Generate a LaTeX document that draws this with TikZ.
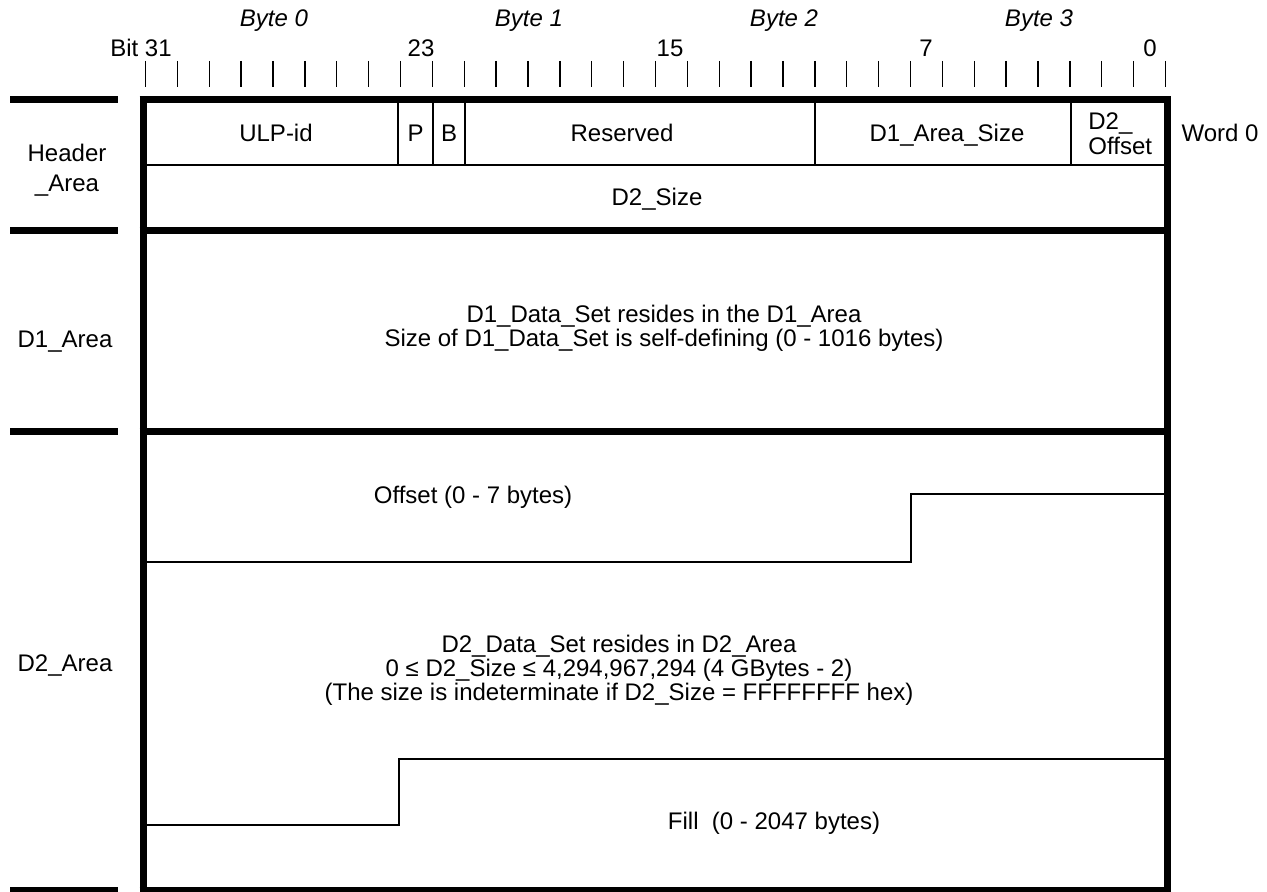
\documentclass[tikz,border=0pt]{standalone}
\usepackage{fontspec}
\setmainfont{Liberation Sans}
\tikzstyle{heavy}=[line width=3.5pt]
\tikzstyle{light}=[line width=1pt]
\tikzstyle{tick}=[line width=0.7pt]
\tikzstyle{lbl}=[inner sep=0pt,anchor=base,font=\fontsize{12}{14}\selectfont]
\tikzstyle{bytelbl}=[lbl,font=\fontsize{12}{14}\selectfont\itshape]

\begin{document}
\begin{tikzpicture}[x=0.5pt,y=-0.5pt]
    \useasboundingbox (0,0) rectangle (1267,892);
    % First the bit ruler on top
    \foreach \k in {0,...,32}
        \draw[tick] ({145.5+31.875*\k},61) -- ({145.5+31.875*\k},87);
    \foreach \x/\name/\txt in {274/byte0/Byte 0, 529/byte1/Byte 1, 784/byte2/Byte 2, 1039/byte3/Byte 3}
        \node[bytelbl] (\name) at (\x,27) {\txt};
    \foreach \x/\name/\txt in {141/bit31/Bit 31, 421/bit23/23, 670/bit15/15, 926/bit7/7, 1150/bit0/0}
        \node[lbl] (\name) at (\x,57) {\txt};
    % Frame and area separators
    \draw[heavy] (143,97) -- (143,892);
    \draw[heavy] (1167,97) -- (1167,892);
    \foreach \y in {100,231,432,890} {
        \draw[heavy] (10,\y) -- (118,\y);
        \draw[heavy] (139.5,\y) -- (1170.5,\y);
    }
    % Fields of word 0
    \draw[light] (143,165) -- (1167,165);
    \foreach \x in {398,433,465,815,1071}
        \draw[light] (\x,100) -- (\x,165);
    \foreach \x/\name/\txt in {276/ulp/ULP-id, 415.5/pbit/P, 449/bbit/B, 622/rsvd/Reserved, 947/d1size/D1\_Area\_Size, 1220/word/Word 0}
        \node[lbl] (\name) at (\x,142) {\txt};
    \node[lbl,anchor=base west] (d2offa) at (1088,130) {D2\_};
    \node[lbl,anchor=base west] (d2offb) at (1088,155) {Offset};
    \node[lbl] (d2size) at (657,206) {D2\_Size};
    % Offset and Fill boundaries in the D2 area
    \draw[light] (143,562) -- (911,562) -- (911,494) -- (1167,494);
    \draw[light] (143,825) -- (399,825) -- (399,759) -- (1167,759);
    % Area names on the left
    \node[lbl] (hdra) at (67,162) {Header};
    \node[lbl] (hdrb) at (67,192) {\_Area};
    \node[lbl] (d1area) at (65,348) {D1\_Area};
    \node[lbl] (d2area) at (65,671) {D2\_Area};
    % Texts inside the areas
    \node[lbl] (d1a) at (664,323) {D1\_Data\_Set resides in the D1\_Area};
    \node[lbl] (d1b) at (664,347) {Size of D1\_Data\_Set is self-defining (0 - 1016 bytes)};
    \node[lbl] (offset) at (473,503) {Offset (0 - 7 bytes)};
    \node[lbl] (d2a) at (619,652) {D2\_Data\_Set resides in D2\_Area};
    \node[lbl] (d2b) at (619,676) {0 ≤ D2\_Size ≤ 4,294,967,294 (4 GBytes - 2)};
    \node[lbl] (d2c) at (619,700) {(The size is indeterminate if D2\_Size = FFFFFFFF hex)};
    \node[lbl] (fill) at (774,829) {Fill\ \ (0 - 2047 bytes)};
\end{tikzpicture}
\end{document}
